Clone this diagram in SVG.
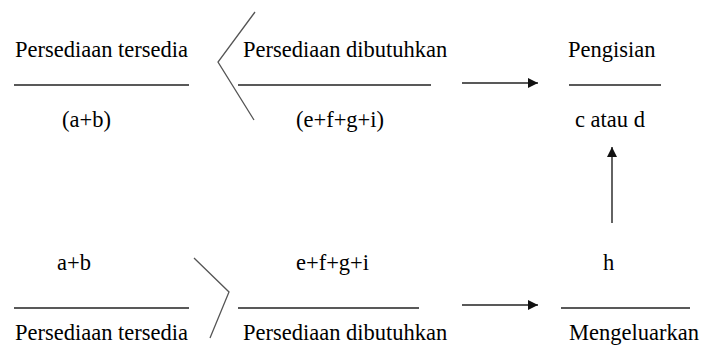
<svg xmlns="http://www.w3.org/2000/svg" width="702" height="345" viewBox="0 0 702 345">
<style>
.t{font-family:"Liberation Serif","Times New Roman",serif;font-size:22.5px;fill:#000}
.ln{stroke:#222;stroke-width:1.4;fill:none}
.ch{stroke:#555;stroke-width:1.3;fill:none}
</style>
<defs>
<marker id="ah" viewBox="0 0 10 10" refX="10" refY="5" markerWidth="10" markerHeight="10" markerUnits="userSpaceOnUse" orient="auto">
<path d="M0,0 L10,5 L0,10 Z" fill="#111"/>
</marker>
</defs>
<rect width="702" height="345" fill="#fff"/>
<g id="top-tersedia">
<text class="t" x="15" y="57">Persediaan tersedia</text>
<line class="ln" x1="14" y1="85" x2="189" y2="85"/>
<text class="t" x="62" y="127">(a+b)</text>
</g>
<g id="top-dibutuhkan">
<text class="t" x="243" y="57">Persediaan dibutuhkan</text>
<line class="ln" x1="238" y1="85" x2="431" y2="85"/>
<text class="t" x="296" y="127">(e+f+g+i)</text>
</g>
<g id="top-pengisian">
<text class="t" x="568" y="57">Pengisian</text>
<line class="ln" x1="569" y1="85" x2="661" y2="85"/>
<text class="t" x="575" y="127">c atau d</text>
</g>
<g id="bot-tersedia">
<text class="t" x="57" y="270">a+b</text>
<line class="ln" x1="14" y1="308" x2="189" y2="308"/>
<text class="t" x="15" y="340">Persediaan tersedia</text>
</g>
<g id="bot-dibutuhkan">
<text class="t" x="296" y="270">e+f+g+i</text>
<line class="ln" x1="238" y1="308" x2="419" y2="308"/>
<text class="t" x="243" y="340">Persediaan dibutuhkan</text>
</g>
<g id="bot-mengeluarkan">
<text class="t" x="603" y="270">h</text>
<line class="ln" x1="561" y1="308" x2="690" y2="308"/>
<text class="t" x="569" y="340">Mengeluarkan</text>
</g>
<g id="connectors">
<polyline class="ch" points="255,12 218,62 254,120"/>
<polyline class="ch" points="194,258 229,292 210,338"/>
<line class="ln" x1="462" y1="83" x2="538" y2="83" marker-end="url(#ah)"/>
<line class="ln" x1="462" y1="305" x2="538" y2="305" marker-end="url(#ah)"/>
<line class="ln" x1="612" y1="223" x2="612" y2="147" marker-end="url(#ah)"/>
</g>
</svg>
